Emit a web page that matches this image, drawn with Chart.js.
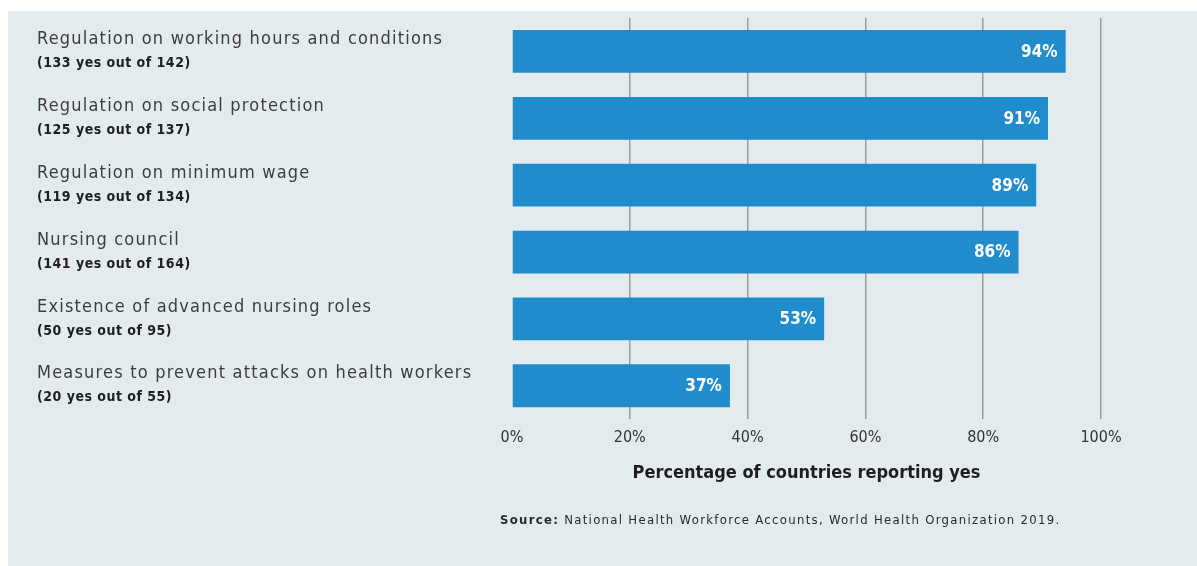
<!DOCTYPE html>
<html>
<head>
<meta charset="utf-8">
<script src="https://cdn.jsdelivr.net/npm/chart.js@4/dist/chart.umd.min.js"></script>
<style>
  html, body { margin: 0; padding: 0; background: #fff; }
  #wrap { width: 1197px; height: 566px; }
</style>
</head>
<body>
<div id="wrap"><canvas id="nursingChart" width="1197" height="566"></canvas></div>
<script>
// data
const categories = [
  "Regulation on working hours and conditions",
  "Regulation on social protection",
  "Regulation on minimum wage",
  "Nursing council",
  "Existence of advanced nursing roles",
  "Measures to prevent attacks on health workers",
];
const counts = [
  "(133 yes out of 142)",
  "(125 yes out of 137)",
  "(119 yes out of 134)",
  "(141 yes out of 164)",
  "(50 yes out of 95)",
  "(20 yes out of 55)",
];
const percentYes = [94, 91, 89, 86, 53, 37];
const xTicks = [0, 20, 40, 60, 80, 100];

const labelFont = "DejaVu Sans Condensed, Liberation Sans Narrow, Arial, sans-serif";

// light panel behind the chart
const panelBg = {
  id: "panelBg",
  beforeDraw(chart) {
    const c = chart.ctx;
    c.save();
    c.fillStyle = "#ffffff";
    c.fillRect(0, 0, chart.width, chart.height);
    c.fillStyle = "#e3ebee";
    c.fillRect(8, 11, chart.width - 8, chart.height - 11);
    c.restore();
  },
};

// category names + counts on the left, value labels in bars, source line
const textLayer = {
  id: "textLayer",
  afterDatasetsDraw(chart) {
    const c = chart.ctx;
    const yScale = chart.scales.y;
    const meta = chart.getDatasetMeta(0);
    c.save();
    c.textBaseline = "middle";
    categories.forEach((name, i) => {
      const y = yScale.getPixelForValue(i);
      c.textAlign = "left";
      c.fillStyle = "#3d3d3d";
      c.font = "18px " + labelFont;
      c.letterSpacing = "1.2px";
      c.fillText(name, 37, y - 12);
      c.fillStyle = "#1e1e1e";
      c.font = "bold 14px " + labelFont;
      c.letterSpacing = "0.5px";
      c.fillText(counts[i], 37, y + 12);

      const bar = meta.data[i];
      c.textAlign = "right";
      c.fillStyle = "#ffffff";
      c.font = "bold 17px " + labelFont;
      c.letterSpacing = "0px";
      c.fillText(percentYes[i] + "%", bar.x - 8, bar.y + 1);
    });

    c.textAlign = "left";
    c.fillStyle = "#2a2a2a";
    c.font = "bold 13px " + labelFont;
    c.letterSpacing = "1.3px";
    const src = "Source:";
    c.fillText(src, 500, 521);
    const w = c.measureText(src).width;
    c.font = "13px " + labelFont;
    c.fillText(" National Health Workforce Accounts, World Health Organization 2019.", 500 + w, 521);
    c.restore();
  },
};

const ctx = document.getElementById("nursingChart").getContext("2d");

const nursingChart = new Chart(ctx, {
  type: "bar",
  data: {
    labels: categories,
    datasets: [
      {
        label: "Percentage of countries reporting yes",
        data: percentYes,
        backgroundColor: "rgb(33, 140, 204)",
        borderWidth: 0,
        barPercentage: 0.64,
        categoryPercentage: 1,
      },
    ],
  },
  options: {
    indexAxis: "y",
    responsive: false,
    animation: false,
    layout: {
      padding: { left: 512, right: 96, top: 18, bottom: 78 },
    },
    scales: {
      x: {
        min: 0,
        max: 100,
        afterBuildTicks(scale) {
          scale.ticks = xTicks.map((v) => ({ value: v }));
        },
        ticks: {
          padding: 9,
          color: "#333",
          font: { family: labelFont, size: 16 },
          callback: (v) => v + "%",
        },
        grid: {
          drawTicks: false,
          lineWidth: 1.5,
          color: (c) => (c.tick && c.tick.value === 0 ? "rgba(0,0,0,0)" : "#9c9c9c"),
        },
        border: { display: false },
        title: {
          display: true,
          text: "Percentage of countries reporting yes",
          color: "#1e1e1e",
          font: { family: labelFont, size: 18, weight: "bold" },
          padding: { top: 6, bottom: 4 },
        },
      },
      y: {
        display: false,
      },
    },
    plugins: {
      legend: { display: false },
      tooltip: { enabled: false },
    },
  },
  plugins: [panelBg, textLayer],
});
</script>
</body>
</html>
